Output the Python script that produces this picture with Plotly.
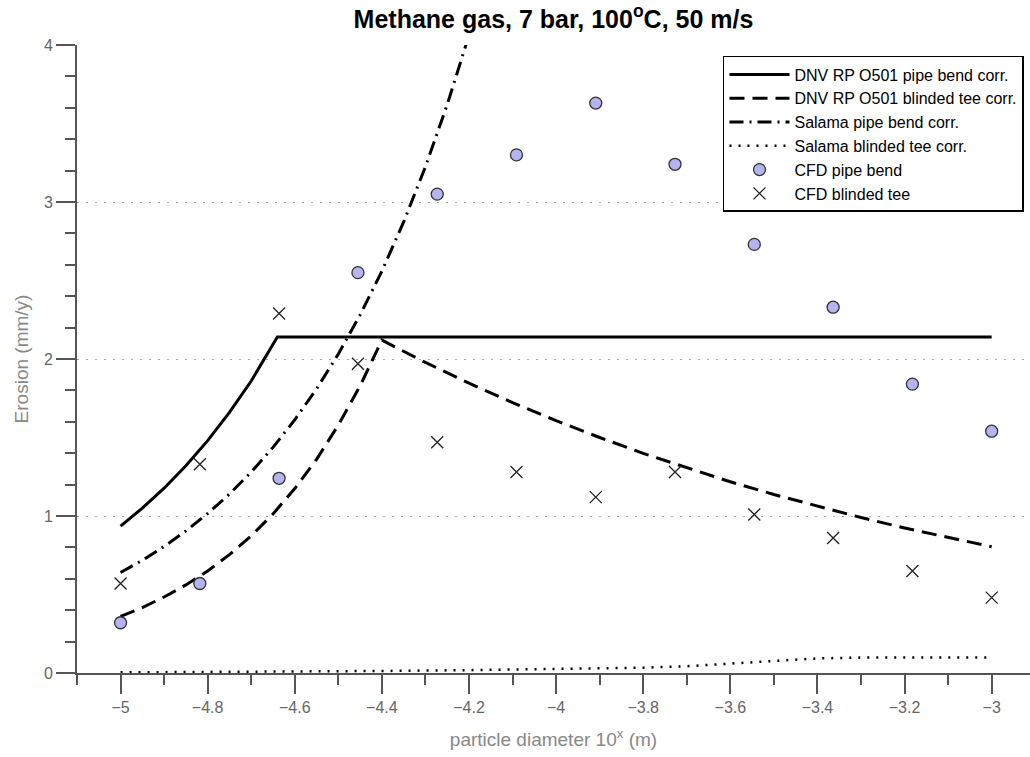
import plotly.graph_objects as go

# ---- data ----
cfd_x = [-5.0, -4.818, -4.636, -4.455, -4.273, -4.091, -3.909, -3.727, -3.545, -3.364, -3.182, -3.0]
cfd_bend = [0.32, 0.57, 1.24, 2.55, 3.05, 3.30, 3.63, 3.24, 2.73, 2.33, 1.84, 1.54]
cfd_tee = [0.57, 1.33, 2.29, 1.97, 1.47, 1.28, 1.12, 1.28, 1.01, 0.86, 0.65, 0.48]

dnv_bend_x = [-5.0, -4.95, -4.9, -4.85, -4.8, -4.75, -4.7, -4.64, -3.0]
dnv_bend_y = [0.936, 1.05, 1.177, 1.32, 1.48, 1.66, 1.86, 2.14, 2.14]

dnv_tee_x = [-5.0, -4.95, -4.9, -4.85, -4.8, -4.75, -4.7, -4.65, -4.6, -4.55, -4.5, -4.45, -4.4,
             -4.3, -4.2, -4.1, -4.0, -3.9, -3.8, -3.7, -3.6, -3.5, -3.4, -3.3, -3.2, -3.1, -3.0]
dnv_tee_y = [0.36, 0.417, 0.484, 0.561, 0.65, 0.754, 0.874, 1.013, 1.175, 1.361, 1.579, 1.829, 2.12,
             1.978, 1.846, 1.722, 1.607, 1.50, 1.399, 1.306, 1.218, 1.137, 1.061, 0.99, 0.924, 0.862, 0.804]

sal_bend_x = [-5.0, -4.95, -4.9, -4.85, -4.8, -4.75, -4.7, -4.65, -4.6, -4.55, -4.5, -4.45, -4.4,
              -4.35, -4.3, -4.25, -4.2]
sal_bend_y = [0.64, 0.718, 0.806, 0.905, 1.016, 1.14, 1.28, 1.437, 1.613, 1.81, 2.032, 2.281, 2.56,
              2.873, 3.225, 3.62, 4.063]

sal_tee_x = [-5.0, -4.8, -4.6, -4.4, -4.2, -4.0, -3.9, -3.8, -3.7, -3.6, -3.5, -3.45, -3.4, -3.35, -3.3, -3.0]
sal_tee_y = [0.004, 0.006, 0.009, 0.013, 0.018, 0.024, 0.028, 0.034, 0.043, 0.058, 0.075, 0.085, 0.093, 0.097, 0.098, 0.098]

FONT = "Liberation Sans"
AXC = "#555555"

fig = go.Figure()
fig.add_trace(go.Scatter(x=dnv_bend_x, y=dnv_bend_y, mode="lines",
                         name="DNV RP O501 pipe bend corr.",
                         line=dict(color="black", width=3)))
fig.add_trace(go.Scatter(x=dnv_tee_x, y=dnv_tee_y, mode="lines",
                         name="DNV RP O501 blinded tee corr.",
                         line=dict(color="black", width=3, dash="15px,8px")))
fig.add_trace(go.Scatter(x=sal_bend_x, y=sal_bend_y, mode="lines",
                         name="Salama pipe bend corr.",
                         line=dict(color="black", width=3, dash="14px,6px,2px,6px")))
fig.add_trace(go.Scatter(x=sal_tee_x, y=sal_tee_y, mode="lines",
                         name="Salama blinded tee corr.",
                         line=dict(color="black", width=2.5, dash="2px,7px")))
fig.add_trace(go.Scatter(x=cfd_x, y=cfd_bend, mode="markers", name="CFD pipe bend",
                         marker=dict(symbol="circle", size=12, color="#b4b4f0",
                                     line=dict(color="#333333", width=1.3))))
fig.add_trace(go.Scatter(x=cfd_x, y=cfd_tee, mode="markers", name="CFD blinded tee",
                         marker=dict(symbol="x-thin", size=12, color="black",
                                     line=dict(color="#222222", width=1.3))))

fig.update_layout(
    width=1030, height=757,
    margin=dict(l=77, r=0, t=45, b=84),
    paper_bgcolor="white", plot_bgcolor="white",
    font=dict(family=FONT, color="#666666", size=16),
    title=dict(text="<b>Methane gas, 7 bar, 100<sup>o</sup>C, 50 m/s</b>",
               font=dict(family=FONT, size=25, color="black"),
               x=0.5, xref="paper", xanchor="center",
               y=0.975, yref="container", yanchor="middle"),
    legend=dict(x=0.9937, y=0.9825, xanchor="right", yanchor="top",
                bgcolor="white", bordercolor="black", borderwidth=1.5,
                font=dict(family=FONT, size=16, color="black"),
                itemwidth=60, tracegroupgap=0),
    showlegend=True,
)

fig.update_xaxes(
    range=[-5.1, -2.912], tick0=-5, dtick=0.2,
    showline=True, linecolor=AXC, linewidth=2,
    ticks="outside", ticklen=19, tickwidth=2, tickcolor=AXC,
    minor=dict(tick0=-5, dtick=0.1, ticks="outside", ticklen=10, tickwidth=2, tickcolor=AXC, showgrid=False),
    showgrid=False, zeroline=False,
    tickfont=dict(family=FONT, size=16, color="#666666"),
    title=dict(text="particle diameter 10<sup>x</sup> (m)", standoff=17,
               font=dict(family=FONT, size=19, color="#888888")),
)
fig.update_yaxes(
    range=[0, 4], tick0=0, dtick=1,
    showline=True, linecolor=AXC, linewidth=2,
    ticks="outside", ticklen=19, tickwidth=2, tickcolor=AXC,
    minor=dict(tick0=0, dtick=0.2, ticks="outside", ticklen=10, tickwidth=2, tickcolor=AXC, showgrid=False),
    showgrid=True, gridcolor="#aaaaaa", gridwidth=1, griddash="2px,7px", zeroline=False,
    tickfont=dict(family=FONT, size=16, color="#666666"),
    title=dict(text="Erosion (mm/y)", standoff=10,
               font=dict(family=FONT, size=19, color="#888888")),
)

fig.write_html("out.html")
